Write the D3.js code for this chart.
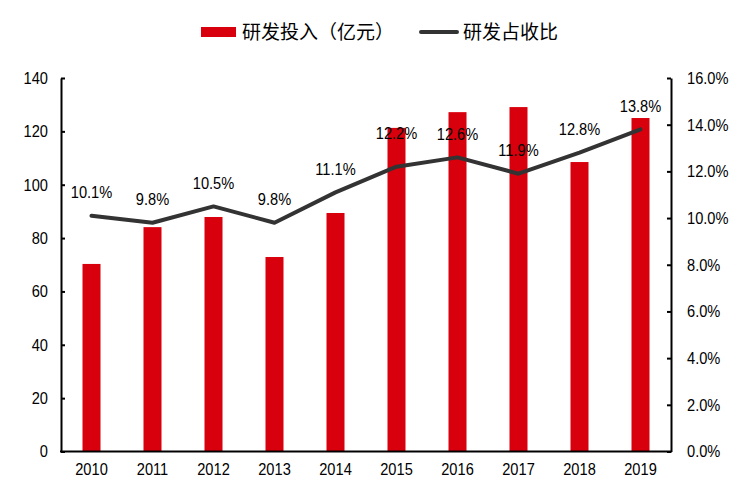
<!DOCTYPE html>
<html><head><meta charset="utf-8">
<script src="https://cdn.jsdelivr.net/npm/d3@7"></script>
<style>body{margin:0;background:#fff}svg{display:block}</style>
</head><body>
<svg id="c" width="737" height="492"></svg>
<script>
const years = ["2010","2011","2012","2013","2014","2015","2016","2017","2018","2019"];
const rdInvest = [70.3, 84.1, 87.9, 72.9, 89.4, 121.3, 127.2, 129.1, 108.5, 125.0];
const rdRatio = [10.1, 9.8, 10.5, 9.8, 11.1, 12.2, 12.6, 11.9, 12.8, 13.8];
const leftTicks = [0,20,40,60,80,100,120,140];
const rightTicks = [0,2,4,6,8,10,12,14,16];
const legendLabels = ["研发投入（亿元）","研发占收比"];

const svg = d3.select("#c");
const L = 61, R = 671, T = 78, B = 451.5;
const font = "'Liberation Sans', Arial, sans-serif";
const fs = 17;
const squeeze = 0.86;
const cjk = "'Noto Sans CJK SC', sans-serif";

const xc = d3.scaleBand().domain(years).range([L, R]);
const yL = d3.scaleLinear().domain([0,140]).range([B, T]);
const yR = d3.scaleLinear().domain([0,16]).range([B, T]);
const cx = d => xc(d) + xc.bandwidth()/2;

function narrow(sel) {
  sel.attr("font-family", font).attr("font-size", fs).attr("fill", "#000")
    .each(function() {
      const w = this.getComputedTextLength();
      d3.select(this).attr("textLength", w * squeeze).attr("lengthAdjust", "spacingAndGlyphs");
    });
}

// bars
svg.append("g").selectAll("rect").data(years).join("rect")
  .attr("x", d => cx(d) - 9)
  .attr("width", 18)
  .attr("y", (d,i) => yL(rdInvest[i]))
  .attr("height", (d,i) => B - yL(rdInvest[i]))
  .attr("fill", "#d9000d");

// axes
const axL = svg.append("g").attr("transform", `translate(${L},0)`)
  .call(d3.axisLeft(yL).tickValues(leftTicks).tickSizeInner(-4).tickSizeOuter(0).tickPadding(13));
const axR = svg.append("g").attr("transform", `translate(${R},0)`)
  .call(d3.axisRight(yR).tickValues(rightTicks).tickSizeInner(-4).tickSizeOuter(0).tickPadding(16).tickFormat(d => d.toFixed(1) + "%"));
const axB = svg.append("g").attr("transform", `translate(0,${B})`)
  .call(d3.axisBottom(xc).tickSize(0).tickPadding(11));
[axL, axR, axB].forEach(a => {
  a.select(".domain").attr("stroke", "#000").attr("stroke-width", 2);
  a.selectAll(".tick line").attr("stroke", "#000").attr("stroke-width", 2);
  a.selectAll("text").call(narrow);
});
axB.select(".domain").attr("d", `M${L-1},0H${R+1}`);

// line
const line = d3.line().x((d,i) => cx(years[i])).y(d => yR(d));
svg.append("path").datum(rdRatio).attr("d", line)
  .attr("fill", "none").attr("stroke", "#333").attr("stroke-width", 4)
  .attr("stroke-linecap", "round").attr("stroke-linejoin", "round");

// labels
svg.append("g").selectAll("text").data(rdRatio).join("text")
  .attr("x", (d,i) => cx(years[i]))
  .attr("y", (d,i) => yR(d) - (i === 5 ? 28 : 17.5))
  .attr("text-anchor", "middle")
  .text(d => d.toFixed(1) + "%")
  .call(narrow);

// legend
const lg = svg.append("g");
lg.append("rect").attr("x", 201).attr("y", 27).attr("width", 35).attr("height", 10).attr("fill", "#d9000d");
lg.append("text").attr("x", 242).attr("y", 39).attr("font-family", cjk).attr("font-size", 19).attr("fill", "#000").text(legendLabels[0]);
lg.append("line").attr("x1", 421).attr("x2", 457).attr("y1", 32).attr("y2", 32)
  .attr("stroke", "#333").attr("stroke-width", 4).attr("stroke-linecap", "round");
lg.append("text").attr("x", 463).attr("y", 39).attr("font-family", cjk).attr("font-size", 19).attr("fill", "#000").text(legendLabels[1]);
</script>
</body></html>
